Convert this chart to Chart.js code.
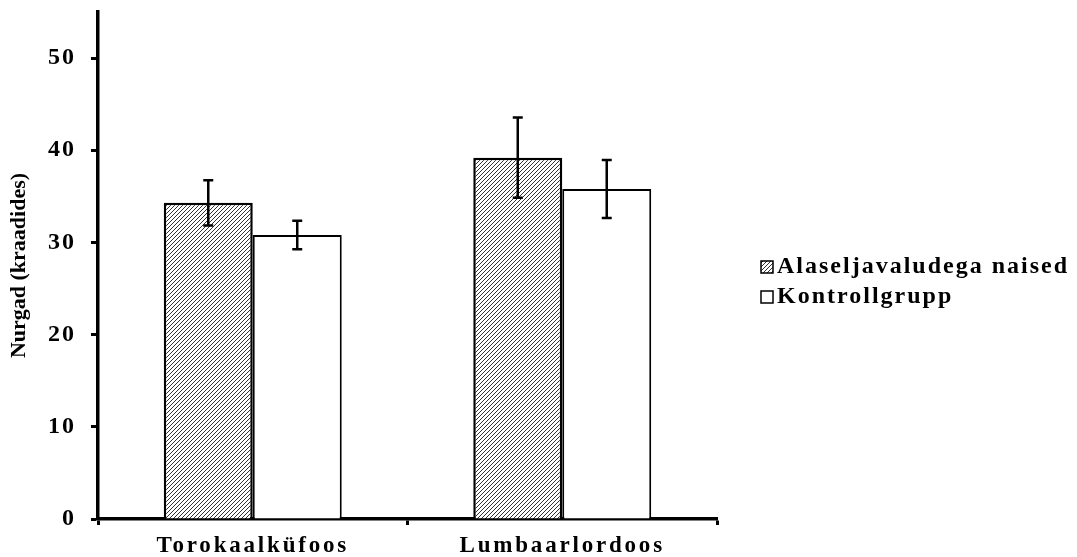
<!DOCTYPE html>
<html>
<head>
<meta charset="utf-8">
<script src="https://cdn.jsdelivr.net/npm/chart.js@4.4.1/dist/chart.umd.min.js"></script>
<style>
  html, body { margin: 0; padding: 0; background: #fff; }
  #wrap { width: 1077px; height: 557px; }
</style>
</head>
<body>
<div id="wrap"><canvas id="nurgadChart" width="1077" height="557"></canvas></div>
<script>
// Andmed
const categories = ['Torokaalküfoos', 'Lumbaarlordoos'];
const seriesNames = ['Alaseljavaludega naised', 'Kontrollgrupp'];
const painValues = [34.3, 39.2];
const painErrors = [2.45, 4.35];
const controlValues = [30.8, 35.8];
const controlErrors = [1.55, 3.15];
const yTicks = [0, 10, 20, 30, 40, 50];

const serif = "'Liberation Serif', 'Times New Roman', serif";

// viirutatud muster
function makeHatch() {
    const c = document.createElement('canvas');
    c.width = 4; c.height = 4;
    const g = c.getContext('2d');
    g.fillStyle = '#fff';
    g.fillRect(0, 0, 4, 4);
    g.strokeStyle = '#333';
    g.lineWidth = 1;
    g.beginPath();
    g.moveTo(0, 4); g.lineTo(4, 0);
    g.moveTo(-1, 1); g.lineTo(1, -1);
    g.moveTo(3, 5); g.lineTo(5, 3);
    g.stroke();
    return g.createPattern(c, 'repeat');
}
const hatch = makeHatch();

// originaalis on horisontaalne kiri laiemaks venitatud
function spaced(scale, spacing) {
    if (scale._spaced) return;
    const orig = scale.drawLabels.bind(scale);
    scale.drawLabels = (area) => {
        scale.ctx.save();
        scale.ctx.letterSpacing = spacing;
        orig(area);
        scale.ctx.restore();
    };
    scale._spaced = true;
}
const wideText = {
    id: 'wideText',
    afterUpdate(chart) {
        spaced(chart.scales.x, '2.8px');
        spaced(chart.scales.y, '2px');
    }
};

// veapiirid
const errorBars = {
    id: 'errorBars',
    afterDatasetsDraw(chart) {
        const ctx = chart.ctx;
        const y = chart.scales.y;
        chart.data.datasets.forEach((ds, i) => {
            chart.getDatasetMeta(i).data.forEach((bar, j) => {
                const v = ds.data[j], e = ds.errors[j];
                const top = y.getPixelForValue(v + e);
                const bot = y.getPixelForValue(v - e);
                ctx.save();
                ctx.strokeStyle = '#000';
                ctx.lineWidth = 2.5;
                ctx.beginPath();
                ctx.moveTo(bar.x, top); ctx.lineTo(bar.x, bot);
                ctx.moveTo(bar.x - 5, top); ctx.lineTo(bar.x + 5, top);
                ctx.moveTo(bar.x - 5, bot); ctx.lineTo(bar.x + 5, bot);
                ctx.stroke();
                ctx.restore();
            });
        });
    }
};

// legend paremal
const sideLegend = {
    id: 'sideLegend',
    afterDraw(chart) {
        const ctx = chart.ctx;
        const x0 = chart.chartArea.right + 44;
        ctx.save();
        ctx.font = 'bold 24px ' + serif;
        ctx.letterSpacing = '2px';
        ctx.textBaseline = 'alphabetic';
        chart.data.datasets.forEach((ds, i) => {
            const base = 273 + i * 30;
            ctx.fillStyle = ds.backgroundColor;
            ctx.fillRect(x0, base - 12, 12, 12);
            ctx.strokeStyle = '#000';
            ctx.lineWidth = 1.5;
            ctx.strokeRect(x0, base - 12, 12, 12);
            ctx.fillStyle = '#000';
            ctx.fillText(ds.label, x0 + 16, base);
        });
        ctx.restore();
    }
};

new Chart(document.getElementById('nurgadChart'), {
    type: 'bar',
    data: {
        labels: categories,
        datasets: [{
            label: seriesNames[0],
            data: painValues,
            errors: painErrors,
            backgroundColor: hatch,
            borderColor: '#000',
            borderWidth: 2.5
        }, {
            label: seriesNames[1],
            data: controlValues,
            errors: controlErrors,
            backgroundColor: '#fff',
            borderColor: '#000',
            borderWidth: 2
        }]
    },
    options: {
        responsive: false,
        animation: false,
        layout: { padding: { top: 12, right: 360, left: 0, bottom: 0 } },
        datasets: { bar: { categoryPercentage: 0.575, barPercentage: 1.0 } },
        plugins: { legend: { display: false }, tooltip: { enabled: false } },
        scales: {
            x: {
                afterFit: s => { s.height = 38; s.paddingLeft = 0; s.paddingRight = 0; },
                grid: { drawOnChartArea: false, tickLength: 6, tickWidth: 3, tickColor: '#000' },
                border: { display: true, color: '#000', width: 3.5 },
                ticks: { color: '#000', padding: 7, font: { family: serif, size: 23, weight: 'bold' } }
            },
            y: {
                min: 0,
                max: 55,
                afterFit: s => { s.width = 98; s.paddingTop = 0; s.paddingBottom = 0; },
                afterBuildTicks: s => { s.ticks = yTicks.map(v => ({ value: v })); },
                grid: { drawOnChartArea: false, tickLength: 7, tickWidth: 3, tickColor: '#000' },
                border: { display: true, color: '#000', width: 3.5 },
                ticks: { color: '#000', padding: 15, font: { family: serif, size: 24, weight: 'bold' } },
                title: {
                    display: true,
                    text: 'Nurgad (kraadides)',
                    color: '#000',
                    padding: { top: 6, bottom: 0 },
                    font: { family: serif, size: 22, weight: 'bold' }
                }
            }
        }
    },
    plugins: [wideText, errorBars, sideLegend]
});
</script>
</body>
</html>
